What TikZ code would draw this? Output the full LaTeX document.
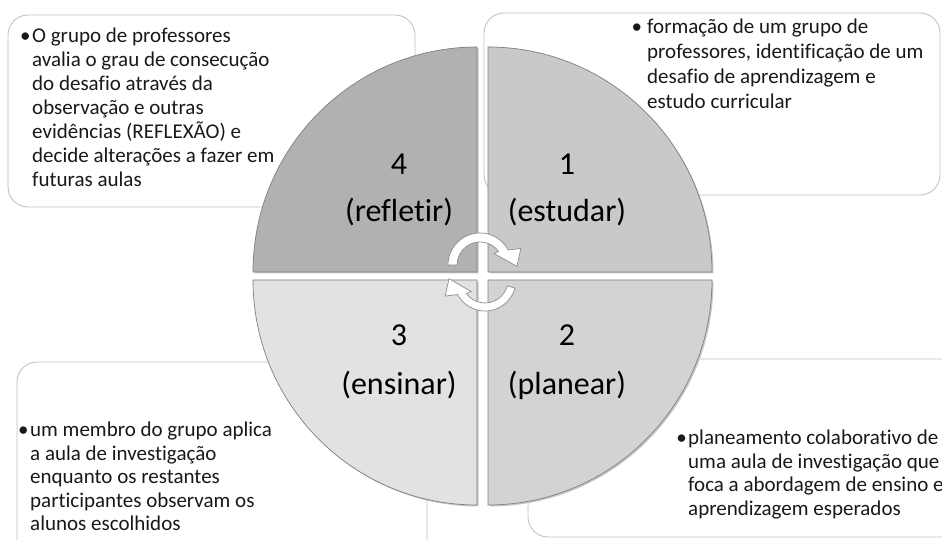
\documentclass[tikz,border=0pt]{standalone}
\usepackage{fontspec}
\setmainfont{Carlito}[Ligatures={NoCommon}]

\definecolor{quadA}{HTML}{C9C9C9}
\definecolor{quadB}{HTML}{D3D3D3}
\definecolor{quadC}{HTML}{E2E2E2}
\definecolor{quadD}{HTML}{B1B1B1}
\definecolor{boxline}{HTML}{C2C2C2}
\definecolor{rimline}{HTML}{7F7F7F}

\newcommand{\itembullet}[1][1.5pt]{\llap{\textbullet\hspace{#1}}}

\begin{document}
\begin{tikzpicture}[x=1pt, y=1pt,
    box/.style={draw=boxline, line width=0.9pt, fill=white, rounded corners=20pt},
    quad/.style={draw=rimline, line width=0.7pt},
    shade/.style={fill=black!22},
    num/.style={font=\fontsize{32}{40}\selectfont, inner sep=0pt, anchor=base},
    desc/.style={inner sep=0pt, anchor=base west, text=black!90},
    turn/.style={fill=white, draw=black!45, line width=0.7pt},
]
\useasboundingbox (0,0) rectangle (942,540);
\clip (0,0) rectangle (942,540);

% Text boxes behind the circle
\draw[box] (8,333) rectangle (415,525);
\draw[box] (484,345) rectangle (940,527);
\draw[box] (17,-20) rectangle (427,178);
\draw[box] (528,3) rectangle (970,181);

% Shadows of the quarters
\fill[shade] (489.5,266.5) -- ++(0,225) arc[start angle=90, end angle=0, x radius=224, y radius=225] -- cycle;
\fill[shade] (489.5,258.5) -- ++(224,0) arc[start angle=0, end angle=-90, x radius=224, y radius=225] -- cycle;
\fill[shade] (478.5,258.5) -- ++(0,-225) arc[start angle=270, end angle=180, x radius=224, y radius=225] -- cycle;
\fill[shade] (478.5,266.5) -- ++(-224,0) arc[start angle=180, end angle=90, x radius=224, y radius=225] -- cycle;

% Quarters
\filldraw[quad, fill=quadA] (488,268) -- ++(0,225) arc[start angle=90, end angle=0, x radius=224, y radius=225] -- cycle;
\filldraw[quad, fill=quadB] (488,260) -- ++(224,0) arc[start angle=0, end angle=-90, x radius=224, y radius=225] -- cycle;
\filldraw[quad, fill=quadC] (477,260) -- ++(0,-225) arc[start angle=270, end angle=180, x radius=224, y radius=225] -- cycle;
\filldraw[quad, fill=quadD] (477,268) -- ++(-224,0) arc[start angle=180, end angle=90, x radius=224, y radius=225] -- cycle;

% Step labels
\node[num] (numone) at (567,365) {1};
\node[num] (nameone) at (567,318) {(estudar)};
\node[num] (numtwo) at (567,194) {2};
\node[num] (nametwo) at (567,145) {(planear)};
\node[num] (numthree) at (399,194) {3};
\node[num] (namethree) at (399,145) {(ensinar)};
\node[num] (numfour) at (399,365) {4};
\node[num] (namefour) at (399,318) {(refletir)};

% Descriptions
\node[desc, font=\fontsize{21}{24}\selectfont] (txtfour) at (32,497)
    {\itembullet\parbox[t]{380pt}{\raggedright O grupo de professores\\
    avalia o grau de consecução\\do desafio através da\\observação e outras\\
    evidências (REFLEXÃO) e\\decide alterações a fazer em\\futuras aulas}};
\node[desc, font=\fontsize{21}{25}\selectfont] (txtone) at (647,506)
    {\itembullet[5pt]\parbox[t]{290pt}{\raggedright formação de um grupo de\\
    professores, identificação de um\\desafio de aprendizagem e\\estudo curricular}};
\node[desc, font=\fontsize{21}{23.5}\selectfont] (txtthree) at (30,103)
    {\itembullet\parbox[t]{380pt}{\raggedright um membro do grupo aplica\\
    a aula de investigação\\enquanto os restantes\\participantes observam os\\
    alunos escolhidos}};
\node[desc, font=\fontsize{21}{23.5}\selectfont] (txttwo) at (688,95)
    {\itembullet\parbox[t]{290pt}{\raggedright planeamento colaborativo de\\
    uma aula de investigação que\\foca a abordagem de ensino e\\aprendizagem esperados}};

% Cycle arrows in the middle
\draw[turn, shift={(480,275)}] (180:32) arc[start angle=180, end angle=28, radius=32]
    -- (22:44) -- (-2:37) -- (40:18) -- (36:23)
    arc[start angle=36, end angle=180, radius=23] -- cycle;
\draw[turn, shift={(485,260)}] (-15:31) arc[start angle=-15, end angle=-152, radius=31]
    -- (-158:43) -- (-182:36) -- (-140:18) -- (-144:23)
    arc[start angle=-144, end angle=-15, radius=23] -- cycle;

\end{tikzpicture}
\end{document}
